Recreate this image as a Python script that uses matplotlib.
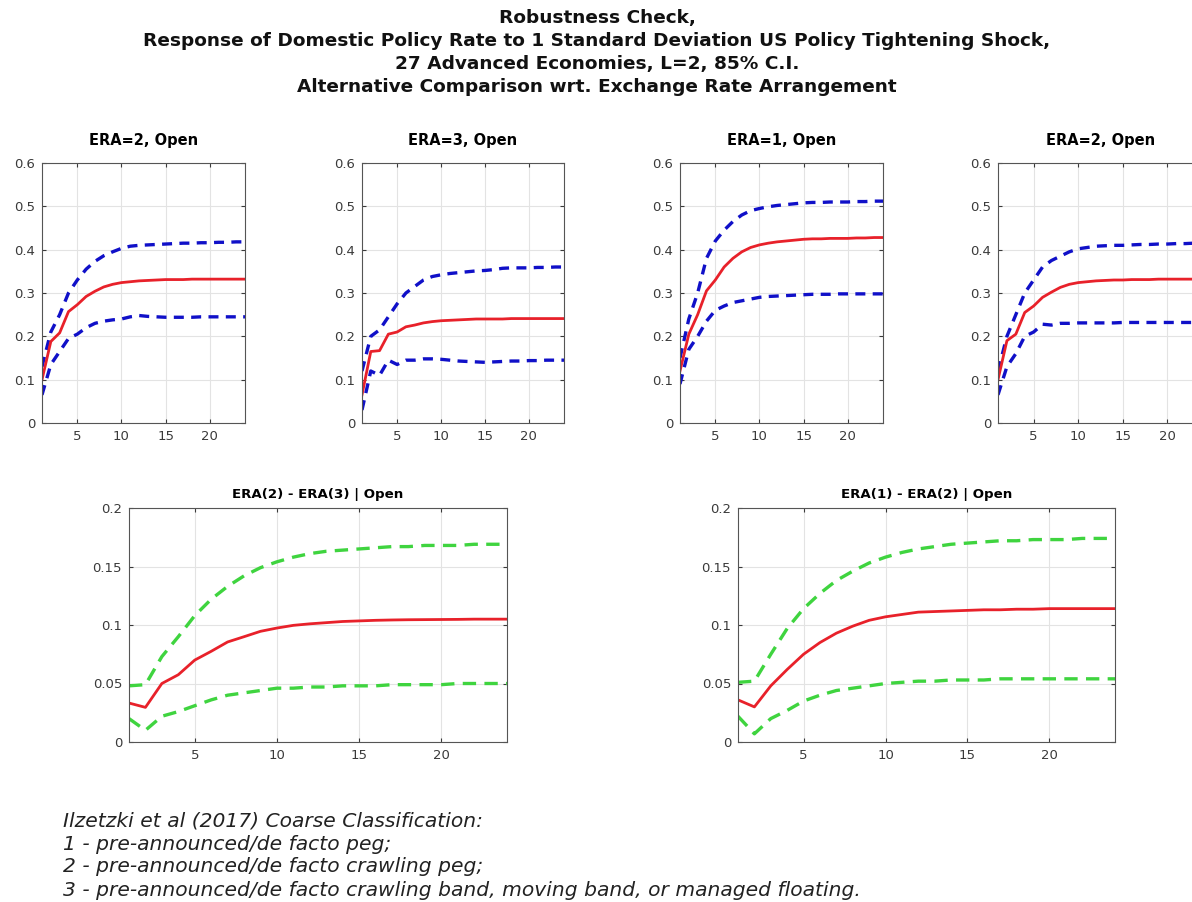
import numpy as np
import matplotlib
matplotlib.use("Agg")
import matplotlib.pyplot as plt

plt.rcParams['font.family'] = ['DejaVu Sans']

horizon = np.arange(1, 25)

# top row: impulse responses with 85% bands
titles_top = ["ERA=2, Open", "ERA=3, Open", "ERA=1, Open", "ERA=2, Open"]
irf_era2 = [0.100, 0.188, 0.208, 0.257, 0.273, 0.292, 0.304, 0.314, 0.320, 0.324, 0.326, 0.328,
            0.329, 0.330, 0.331, 0.331, 0.331, 0.332, 0.332, 0.332, 0.332, 0.332, 0.332, 0.332]
up_era2 = [0.130, 0.210, 0.250, 0.300, 0.330, 0.355, 0.373, 0.386, 0.395, 0.403, 0.408, 0.410,
           0.411, 0.412, 0.413, 0.414, 0.415, 0.415, 0.416, 0.416, 0.417, 0.417, 0.418, 0.418]
lo_era2 = [0.065, 0.135, 0.165, 0.195, 0.205, 0.220, 0.230, 0.235, 0.238, 0.240, 0.245, 0.248,
           0.246, 0.245, 0.244, 0.244, 0.244, 0.244, 0.245, 0.245, 0.245, 0.245, 0.245, 0.245]

irf_era3 = [0.065, 0.165, 0.167, 0.205, 0.210, 0.222, 0.226, 0.231, 0.234, 0.236, 0.237, 0.238,
            0.239, 0.240, 0.240, 0.240, 0.240, 0.241, 0.241, 0.241, 0.241, 0.241, 0.241, 0.241]
up_era3 = [0.120, 0.200, 0.215, 0.245, 0.275, 0.300, 0.315, 0.330, 0.338, 0.342, 0.345, 0.347,
           0.349, 0.351, 0.352, 0.354, 0.357, 0.358, 0.358, 0.358, 0.359, 0.359, 0.360, 0.360]
lo_era3 = [0.030, 0.120, 0.110, 0.145, 0.135, 0.145, 0.145, 0.148, 0.148, 0.147, 0.145, 0.143,
           0.142, 0.141, 0.140, 0.141, 0.142, 0.143, 0.143, 0.144, 0.144, 0.145, 0.145, 0.145]

irf_era1 = [0.120, 0.205, 0.250, 0.305, 0.330, 0.360, 0.380, 0.395, 0.405, 0.411, 0.415, 0.418,
            0.420, 0.422, 0.424, 0.425, 0.425, 0.426, 0.426, 0.426, 0.427, 0.427, 0.428, 0.428]
up_era1 = [0.150, 0.240, 0.300, 0.380, 0.420, 0.445, 0.465, 0.480, 0.490, 0.495, 0.499, 0.502,
           0.504, 0.506, 0.508, 0.509, 0.509, 0.510, 0.510, 0.510, 0.511, 0.511, 0.512, 0.512]
lo_era1 = [0.090, 0.170, 0.200, 0.235, 0.260, 0.270, 0.278, 0.282, 0.286, 0.290, 0.292, 0.293,
           0.294, 0.295, 0.296, 0.297, 0.297, 0.297, 0.298, 0.298, 0.298, 0.298, 0.298, 0.298]

irf_era2b = [0.100, 0.190, 0.205, 0.255, 0.270, 0.290, 0.302, 0.313, 0.320, 0.324, 0.326, 0.328,
             0.329, 0.330, 0.330, 0.331, 0.331, 0.331, 0.332, 0.332, 0.332, 0.332, 0.332, 0.332]
up_era2b = [0.120, 0.200, 0.250, 0.300, 0.330, 0.360, 0.375, 0.385, 0.395, 0.402, 0.405, 0.408,
            0.409, 0.410, 0.410, 0.411, 0.412, 0.412, 0.413, 0.413, 0.414, 0.414, 0.415, 0.415]
lo_era2b = [0.065, 0.130, 0.160, 0.200, 0.210, 0.228, 0.226, 0.230, 0.230, 0.231, 0.231, 0.231,
            0.231, 0.231, 0.232, 0.232, 0.232, 0.232, 0.232, 0.232, 0.232, 0.232, 0.232, 0.232]

# bottom row: differences
titles_bot = ["ERA(2) - ERA(3) | Open", "ERA(1) - ERA(2) | Open"]
diff_23 = [0.0333, 0.0296, 0.050, 0.0575, 0.070, 0.0775, 0.0855, 0.090, 0.0946, 0.0974, 0.0997, 0.101,
           0.102, 0.103, 0.1035, 0.104, 0.1043, 0.1045, 0.1046, 0.1047, 0.1048, 0.105, 0.105, 0.105]
dup_23 = [0.048, 0.049, 0.073, 0.090, 0.108, 0.122, 0.133, 0.142, 0.149, 0.154, 0.158, 0.161,
          0.163, 0.164, 0.165, 0.166, 0.167, 0.167, 0.168, 0.168, 0.168, 0.169, 0.169, 0.169]
dlo_23 = [0.020, 0.010, 0.022, 0.026, 0.031, 0.036, 0.040, 0.042, 0.044, 0.046, 0.046, 0.047,
          0.047, 0.048, 0.048, 0.048, 0.049, 0.049, 0.049, 0.049, 0.050, 0.050, 0.050, 0.050]

diff_12 = [0.036, 0.030, 0.048, 0.062, 0.075, 0.085, 0.093, 0.099, 0.104, 0.107, 0.109, 0.111,
           0.1115, 0.112, 0.1125, 0.113, 0.113, 0.1135, 0.1135, 0.114, 0.114, 0.114, 0.114, 0.114]
dup_12 = [0.051, 0.052, 0.075, 0.097, 0.114, 0.127, 0.138, 0.146, 0.153, 0.158, 0.162, 0.165,
          0.167, 0.169, 0.170, 0.171, 0.172, 0.172, 0.173, 0.173, 0.173, 0.174, 0.174, 0.174]
dlo_12 = [0.022, 0.007, 0.020, 0.027, 0.035, 0.040, 0.044, 0.046, 0.048, 0.050, 0.051, 0.052,
          0.052, 0.053, 0.053, 0.053, 0.054, 0.054, 0.054, 0.054, 0.054, 0.054, 0.054, 0.054]

top_series = [(irf_era2, up_era2, lo_era2), (irf_era3, up_era3, lo_era3),
              (irf_era1, up_era1, lo_era1), (irf_era2b, up_era2b, lo_era2b)]
bot_series = [(diff_23, dup_23, dlo_23), (diff_12, dup_12, dlo_12)]

W, H = 1192, 902
fig = plt.figure(figsize=(W / 100, H / 100), dpi=100)


def box(l, t, r, b):
    return [l / W, (H - b) / H, (r - l) / W, (b - t) / H]


def matlab_style(ax):
    ax.grid(True, color='#e3e3e3', linewidth=0.8)
    ax.set_axisbelow(True)
    for s in ax.spines.values():
        s.set_color('#555555')
        s.set_linewidth(0.8)
    ax.tick_params(direction='in', length=3, labelsize=9.5, colors='#3a3a3a',
                   top=True, right=True, pad=5)
    ax.set_xlim(1, 24)
    ax.set_xticks([5, 10, 15, 20])


top_pos = [(42, 163, 245, 423), (362, 163, 564, 423), (680, 163, 883, 423), (998, 163, 1203, 423)]
for (l, t, r, b), title, (mid, up, lo) in zip(top_pos, titles_top, top_series):
    ax = fig.add_axes(box(l, t, r, b))
    ax.plot(horizon, up, '--', color='#1010c8', lw=2.4, dashes=(3, 2.2))
    ax.plot(horizon, lo, '--', color='#1010c8', lw=2.4, dashes=(3, 2.2))
    ax.plot(horizon, mid, '-', color='#e8212a', lw=2)
    matlab_style(ax)
    ax.set_ylim(0, 0.6)
    ax.set_yticks([0, 0.1, 0.2, 0.3, 0.4, 0.5, 0.6])
    ax.set_yticklabels(['0', '0.1', '0.2', '0.3', '0.4', '0.5', '0.6'])
    ax.set_title(title, fontsize=10.5, fontweight='bold', pad=13)

bot_pos = [(129, 508, 507, 742), (738, 508, 1115, 742)]
for (l, t, r, b), title, (mid, up, lo) in zip(bot_pos, titles_bot, bot_series):
    ax = fig.add_axes(box(l, t, r, b))
    ax.plot(horizon, up, '--', color='#3fd43f', lw=2.4, dashes=(4, 2.5))
    ax.plot(horizon, lo, '--', color='#3fd43f', lw=2.4, dashes=(4, 2.5))
    ax.plot(horizon, mid, '-', color='#e8212a', lw=2)
    matlab_style(ax)
    ax.set_ylim(0, 0.2)
    ax.set_yticks([0, 0.05, 0.1, 0.15, 0.2])
    ax.set_yticklabels(['0', '0.05', '0.1', '0.15', '0.2'])
    ax.set_title(title, fontsize=9.6, fontweight='bold', pad=7)

title_lines = ["Robustness Check,",
               "Response of Domestic Policy Rate to 1 Standard Deviation US Policy Tightening Shock,",
               "27 Advanced Economies, L=2, 85% C.I.",
               "Alternative Comparison wrt. Exchange Rate Arrangement"]
for i, line in enumerate(title_lines):
    fig.text(597 / W, 1 - (18 + 23 * i) / H, line, ha='center', va='center',
             fontsize=13.3, fontweight='bold', color='#111111')

note_lines = ["Ilzetzki et al (2017) Coarse Classification:",
              "1 - pre-announced/de facto peg;",
              "2 - pre-announced/de facto crawling peg;",
              "3 - pre-announced/de facto crawling band, moving band, or managed floating."]
for i, line in enumerate(note_lines):
    fig.text(63 / W, 1 - (821 + 23 * i) / H, line, ha='left', va='center',
             fontsize=14.6, style='italic', color='#222222')

fig.savefig("out.png", dpi=100)
